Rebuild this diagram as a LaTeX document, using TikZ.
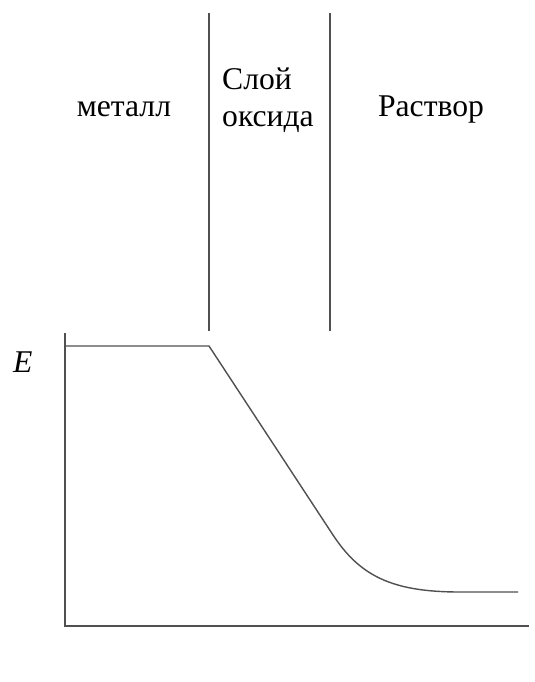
\documentclass[tikz,border=0pt]{standalone}
\usepackage{fontspec}
\setmainfont{Liberation Serif}
\usepackage{tikz}
\usetikzlibrary{positioning}
\definecolor{lnGray}{RGB}{80,80,80}

\begin{document}
\begin{tikzpicture}[x=0.03cm, y=-0.03cm,
  line/.style={draw=lnGray, line width=1.2pt},
  lbl/.style={font=\fontsize{27}{32.4}\selectfont, inner sep=0pt, anchor=base}]
\useasboundingbox (0,0) rectangle (534,682);
% layer boundaries
\draw[line] (209,13) -- (209,331);
\draw[line] (330,13) -- (330,331);
\node[lbl] (met) at (124,117) {металл};
\node[lbl, anchor=base west, align=left] (oks) at (222,127) {Слой\\оксида};
\node[lbl] (rast) at (431,117) {Раствор};
% axes
\coordinate (org) at (65,626);
\draw[line] (65,333) -- (org) -- (529,626);
\node[lbl, anchor=base west] (ee) at (13,372) {\textit{E}};
% potential curve
\draw[line, line join=round] (65,346) -- (209,346) -- (333,535)
  .. controls (360,576) and (392,592) .. (460,592) -- (518,592);
\end{tikzpicture}
\end{document}
